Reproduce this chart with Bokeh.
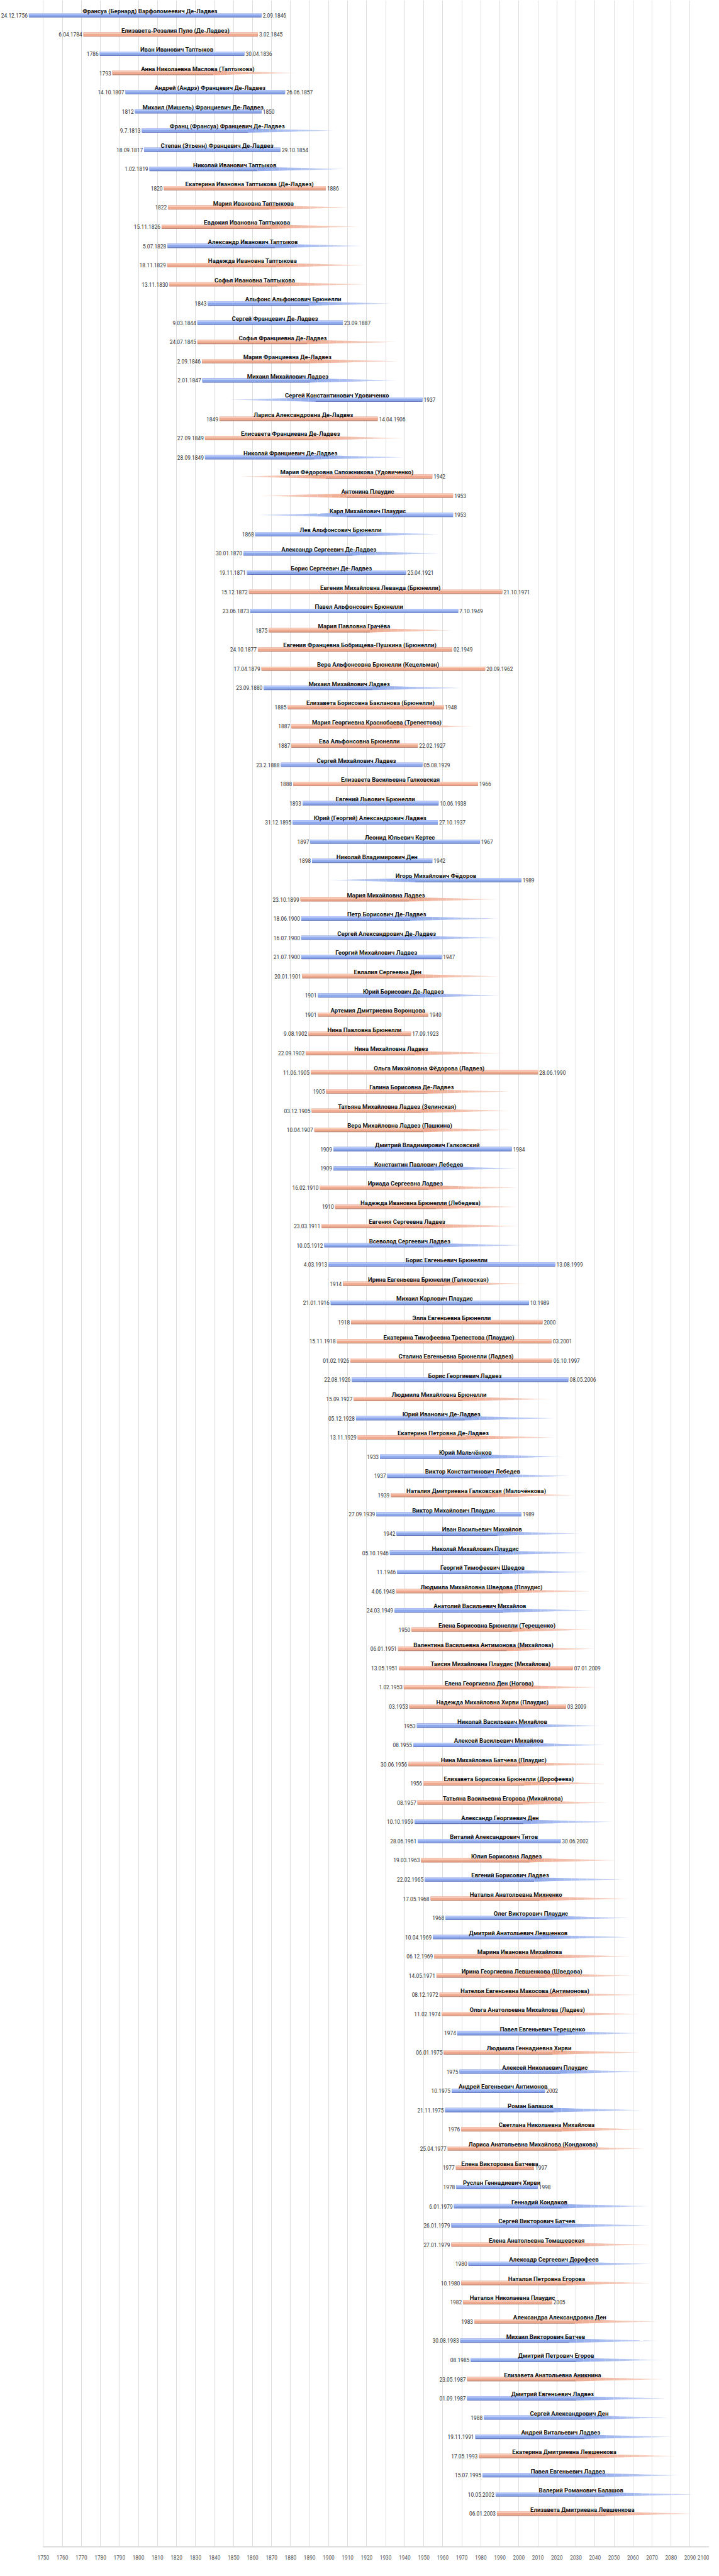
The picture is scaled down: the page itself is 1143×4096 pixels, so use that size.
from bokeh.plotting import figure
from bokeh.models import Range1d, ColumnDataSource, FixedTicker
from bokeh.transform import dodge
from bokeh.core.properties import value
from bokeh.embed import file_html
from bokeh.resources import INLINE

names = [
    "Франсуа (Бернард) Варфоломеевич Де-Ладвез", "Елизавета-Розалия Пуло (Де-Ладвез)", "Иван Иванович Таптыков",
    "Анна Николаевна Маслова (Таптыкова)", "Андрей (Андрэ) Францевич Де-Ладвез", "Михаил (Мишель) Франциевич Де-Ладвез",
    "Франц (Франсуа) Францевич Де-Ладвез", "Степан (Этьенн) Францевич Де-Ладвез", "Николай Иванович Таптыков",
    "Екатерина Ивановна Таптыкова (Де-Ладвез)", "Мария Ивановна Таптыкова",
    "Евдокия Ивановна Таптыкова", "Александр Иванович Таптыков", "Надежда Ивановна Таптыкова", "Софья Ивановна Таптыкова",
    "Альфонс Альфонсович Брюнелли", "Сергей Францевич Де-Ладвез", "Софья Франциевна Де-Ладвез", "Мария Франциевна Де-Ладвез",
    "Михаил Михайлович Ладвез", "Сергей Константинович Удовиченко", "Лариса Александровна Де-Ладвез",
    "Елисавета Франциевна Де-Ладвез", "Николай Франциевич Де-Ладвез", "Мария Фёдоровна Сапожникова (Удовиченко)",
    "Антонина Плаудис", "Карл Михайлович Плаудис", "Лев Альфонсович Брюнелли", "Александр Сергеевич Де-Ладвез",
    "Борис Сергеевич Де-Ладвез", "Евгения Михайловна Леванда (Брюнелли)", "Павел Альфонсович Брюнелли", "Мария Павловна Грачёва",
    "Евгения Францевна Бобрищева-Пушкина (Брюнелли)", "Вера Альфонсовна Брюнелли (Кецельман)", "Михаил Михайлович Ладвез",
    "Елизавета Борисовна Бакланова (Брюнелли)", "Мария Георгиевна Краснобаева (Трепестова)", "Ева Альфонсовна Брюнелли",
    "Сергей Михайлович Ладвез", "Елизавета Васильевна Галковская", "Евгений Львович Брюнелли",
    "Юрий (Георгий) Александрович Ладвез", "Леонид Юльевич Кертес",
    "Николай Владимирович Ден", "Игорь Михайлович Фёдоров", "Мария Михайловна Ладвез", "Петр Борисович Де-Ладвез",
    "Сергей Александрович Де-Ладвез", "Георгий Михайлович Ладвез", "Евлалия Сергеевна Ден", "Юрий Борисович Де-Ладвез",
    "Артемия Дмитриевна Воронцова", "Нина Павловна Брюнелли", "Нина Михайловна Ладвез",
    "Ольга Михайловна Фёдорова (Ладвез)", "Галина Борисовна Де-Ладвез", "Татьяна Михайловна Ладвез (Зелинская)",
    "Вера Михайловна Ладвез (Пашкина)", "Дмитрий Владимирович Галковский", "Константин Павлович Лебедев",
    "Ириада Сергеевна Ладвез", "Надежда Ивановна Брюнелли (Лебедева)", "Евгения Сергеевна Ладвез",
    "Всеволод Сергеевич Ладвез", "Борис Евгеньевич Брюнелли",
    "Ирина Евгеньевна Брюнелли (Галковская)", "Михаил Карлович Плаудис", "Элла Евгеньевна Брюнелли",
    "Екатерина Тимофеевна Трепестова (Плаудис)", "Сталина Евгеньевна Брюнелли (Ладвез)", "Борис Георгиевич Ладвез",
    "Людмила Михайловна Брюнелли", "Юрий Иванович Де-Ладвез", "Екатерина Петровна Де-Ладвез", "Юрий Мальчёнков",
    "Виктор Константинович Лебедев",
    "Наталия Дмитриевна Галковская (Мальчёнкова)", "Виктор Михайлович Плаудис", "Иван Васильевич Михайлов",
    "Николай Михайлович Плаудис", "Георгий Тимофеевич Шведов", "Людмила Михайловна Шведова (Плаудис)",
    "Анатолий Васильевич Михайлов", "Елена Борисовна Брюнелли (Терещенко)", "Валентина Васильевна Антимонова (Михайлова)",
    "Таисия Михайловна Плаудис (Михайлова)", "Елена Георгиевна Ден (Ногова)",
    "Надежда Михайловна Хирви (Плаудис)", "Николай Васильевич Михайлов", "Алексей Васильевич Михайлов",
    "Нина Михайловна Батчева (Плаудис)", "Елизавета Борисовна Брюнелли (Дорофеева)", "Татьяна Васильевна Егорова (Михайлова)",
    "Александр Георгиевич Ден", "Виталий Александрович Титов", "Юлия Борисовна Ладвез", "Евгений Борисович Ладвез",
    "Наталья Анатольевна Михненко",
    "Олег Викторович Плаудис", "Дмитрий Анатольевич Левшенков", "Марина Ивановна Михайлова",
    "Ирина Георгиевна Левшенкова (Шведова)", "Нателья Евгеньевна Макосова (Антимонова)", "Ольга Анатольевна Михайлова (Ладвез)",
    "Павел Евгеньевич Терещенко", "Людмила Геннадиевна Хирви", "Алексей Николаевич Плаудис", "Андрей Евгеньевич Антимонов",
    "Роман Балашов",
    "Светлана Николаевна Михайлова", "Лариса Анатольевна Михайлова (Кондакова)", "Елена Викторовна Батчева",
    "Руслан Геннадиевич Хирви", "Геннадий Кондаков", "Сергей Викторович Батчев", "Елена Анатольевна Томашевская",
    "Алексадр Сергеевич Дорофеев", "Наталья Петровна Егорова", "Наталья Николаевна Плаудис", "Александра Александровна Ден",
    "Михаил Викторович Батчев", "Дмитрий Петрович Егоров", "Елизавета Анатольевна Аникнина", "Дмитрий Евгеньевич Ладвез",
    "Сергей Александрович Ден", "Андрей Витальевич Ладвез", "Екатерина Дмитриевна Левшенкова", "Павел Евгеньевич Ладвез",
    "Валерий Романович Балашов", "Елизавета Дмитриевна Левшенкова",
]

sexes = list("MFMFMMMMMFF" "FMFFMMFFMMF" "FMFFMMMMFMF" "FFMFFFMFMMM" "MMFMMMFMFFF" "FFFFMMFFFMM"
             "FMFFFMFMFMM" "FMMMMFMFFFF" "FMMFFFMMFMF" "MMFFFFMFMMM" "FFFMMMFMFFF" "MMFMMMFMMF")

born = [
    "24.12.1756", "6.04.1784", "1786", "1793", "14.10.1807", "1812", "9.7.1813", "18.09.1817", "1.02.1819", "1820", "1822",
    "15.11.1826", "5.07.1828", "18.11.1829", "13.11.1830", "1843", "9.03.1844", "24.07.1845", "2.09.1846", "2.01.1847", "", "1849",
    "27.09.1849", "28.09.1849", "", "", "", "1868", "30.01.1870", "19.11.1871", "15.12.1872", "23.06.1873", "1875",
    "24.10.1877", "17.04.1879", "23.09.1880", "1885", "1887", "1887", "23.2.1888", "1888", "1893", "31.12.1895", "1897",
    "1898", "", "23.10.1899", "18.06.1900", "16.07.1900", "21.07.1900", "20.01.1901", "1901", "1901", "9.08.1902", "22.09.1902",
    "11.06.1905", "1905", "03.12.1905", "10.04.1907", "1909", "1909", "16.02.1910", "1910", "23.03.1911", "10.05.1912", "4.03.1913",
    "1914", "21.01.1916", "1918", "15.11.1918", "01.02.1926", "22.08.1926", "15.09.1927", "05.12.1928", "13.11.1929", "1933", "1937",
    "1939", "27.09.1939", "1942", "05.10.1946", "11.1946", "4.06.1948", "24.03.1949", "1950", "06.01.1951", "13.05.1951", "1.02.1953",
    "03.1953", "1953", "08.1955", "30.06.1956", "1956", "08.1957", "10.10.1959", "28.06.1961", "19.03.1963", "22.02.1965", "17.05.1968",
    "1968", "10.04.1969", "06.12.1969", "14.05.1971", "08.12.1972", "11.02.1974", "1974", "06.01.1975", "1975", "10.1975", "21.11.1975",
    "1976", "25.04.1977", "1977", "1978", "6.01.1979", "26.01.1979", "27.01.1979", "1980", "10.1980", "1982", "1983",
    "30.08.1983", "08.1985", "23.05.1987", "01.09.1987", "1988", "19.11.1991", "17.05.1993", "15.07.1995", "10.05.2002", "06.01.2003",
]

died = [
    "2.09.1846", "3.02.1845", "30.04.1836", "", "26.06.1857", "1850", "", "29.10.1854", "", "1886", "",
    "", "", "", "", "", "23.09.1887", "", "", "", "1937", "14.04.1906",
    "", "", "1942", "1953", "1953", "", "", "25.04.1921", "21.10.1971", "7.10.1949", "",
    "02.1949", "20.09.1962", "", "1948", "", "22.02.1927", "05.08.1929", "1966", "10.06.1938", "27.10.1937", "1967",
    "1942", "1989", "", "", "", "1947", "", "", "1940", "17.09.1923", "",
    "28.06.1990", "", "", "", "1984", "", "", "", "", "", "13.08.1999",
    "", "10.1989", "2000", "03.2001", "06.10.1997", "08.05.2006", "", "", "", "", "",
    "", "1989", "", "", "", "", "", "", "", "07.01.2009", "",
    "03.2009", "", "", "", "", "", "", "30.06.2002", "", "", "",
    "", "", "", "", "", "", "", "", "", "2002", "",
    "", "", "1997", "1998", "", "", "", "", "", "2005", "",
    "", "", "", "", "", "", "", "", "", "",
]

# bar ends, in axis years
start = [
    1742.4, 1771.1, 1779.7, 1786.3, 1793.2, 1798.2, 1801.8, 1803.0, 1805.8, 1813.4, 1815.6,
    1812.2, 1815.3, 1815.1, 1816.3, 1836.5, 1831.0, 1831.0, 1833.4, 1833.6, 1847.4, 1842.6,
    1835.0, 1835.0, 1852.6, 1863.5, 1863.5, 1861.4, 1855.2, 1857.1, 1858.1, 1858.8, 1868.5,
    1862.8, 1864.7, 1865.9, 1878.5, 1880.4, 1880.4, 1874.9, 1881.4, 1886.3, 1881.1, 1890.4,
    1891.3, 1899.9, 1885.2, 1885.6, 1885.6, 1885.6, 1886.1, 1894.4, 1894.4, 1889.4, 1888.0,
    1890.6, 1898.7, 1891.1, 1892.5, 1902.5, 1902.5, 1895.4, 1903.4, 1896.3, 1897.7, 1899.9,
    1907.5, 1901.1, 1911.8, 1904.4, 1911.5, 1912.2, 1913.2, 1914.4, 1915.3, 1927.0, 1930.8,
    1932.7, 1925.1, 1935.7, 1932.2, 1936.0, 1935.5, 1934.6, 1943.6, 1936.5, 1936.9, 1939.5,
    1942.4, 1946.4, 1944.5, 1941.9, 1949.8, 1946.7, 1945.2, 1946.9, 1948.6, 1950.5, 1953.6,
    1961.4, 1954.8, 1955.5, 1956.7, 1958.3, 1959.5, 1967.6, 1960.5, 1968.8, 1964.7, 1961.2,
    1969.7, 1962.6, 1966.9, 1967.1, 1965.9, 1964.5, 1964.5, 1973.5, 1969.7, 1970.7, 1976.6,
    1969.2, 1974.7, 1972.8, 1972.8, 1981.6, 1977.1, 1979.0, 1980.9, 1987.8, 1988.5,
]
end = [
    1864.7, 1862.8, 1855.7, 1883.0, 1877.1, 1864.7, 1903.2, 1874.7, 1909.1, 1898.5, 1912.2,
    1916.7, 1918.2, 1919.4, 1919.8, 1933.1, 1907.5, 1935.7, 1936.5, 1936.5, 1949.3, 1925.8,
    1939.5, 1939.5, 1954.5, 1965.4, 1965.4, 1958.3, 1959.7, 1940.7, 1991.3, 1968.1, 1965.4,
    1965.0, 1982.3, 1969.7, 1960.5, 1976.8, 1946.9, 1949.3, 1978.5, 1957.8, 1957.4, 1979.5,
    1954.5, 2001.3, 1989.2, 1989.7, 1989.7, 1959.5, 1989.9, 1990.6, 1952.4, 1943.3, 1992.3,
    2010.1, 1995.1, 1995.8, 1996.8, 1996.3, 1998.9, 1999.4, 1999.9, 2000.6, 2002.3, 2019.1,
    2004.2, 2005.3, 2012.5, 2017.2, 2017.5, 2026.0, 2017.5, 2018.4, 2019.1, 2023.2, 2027.2,
    2029.1, 2001.3, 2032.2, 2036.2, 2036.5, 2037.9, 2038.8, 2039.5, 2040.5, 2028.4, 2042.9,
    2024.8, 2043.3, 2045.2, 2046.0, 2046.2, 2047.4, 2049.5, 2022.0, 2052.4, 2055.2, 2058.1,
    2058.1, 2059.0, 2059.5, 2060.7, 2062.6, 2064.0, 2064.3, 2064.7, 2065.2, 2013.7, 2065.2,
    2065.9, 2067.1, 2008.0, 2009.9, 2068.8, 2069.0, 2069.0, 2070.0, 2070.0, 2017.5, 2073.0,
    2073.3, 2075.4, 2076.6, 2077.3, 2078.5, 2081.4, 2083.0, 2085.4, 2092.0, 2092.5,
]

tick_years = list(range(1750, 2101, 10))

# ---------------- styling ----------------
PALETTE = {
    "M": {"dark": "#6277bd", "main": "#8ea8ec", "light": "#b6c8f8"},
    "F": {"dark": "#bd8672", "main": "#efa98f", "light": "#f9cab7"},
}
BAR_H = 0.225          # bar thickness in row units
SOLID_FRAC = 0.55      # fraction of a tapered bar drawn at full height
N_SLICES = 12

W, H = 1127, 4080
p = figure(width=W, height=H, output_backend="svg", toolbar_location=None,
           x_range=Range1d(1727.4, 2100.1), y_range=Range1d(131.72, -0.78),
           min_border_left=0, min_border_right=0, min_border_top=0, min_border_bottom=31)
p.outline_line_color = None
p.background_fill_color = "white"
p.border_fill_color = "white"

rows = list(range(len(names)))

solid = dict(row=[], left=[], right=[], dark=[], main=[], light=[])
taper_xs, taper_ys, taper_col = [], [], []


def blend(c, t):
    r, g, b = int(c[1:3], 16), int(c[3:5], 16), int(c[5:7], 16)
    r = round(r + (255 - r) * t)
    g = round(g + (255 - g) * t)
    b = round(b + (255 - b) * t)
    return "#%02x%02x%02x" % (r, g, b)


name_x = []
for i in rows:
    s, e = start[i], end[i]
    L = e - s
    pal = PALETTE[sexes[i]]
    if died[i] == "":            # open end: fades out to the right
        left, right = s, s + SOLID_FRAC * L
        a, b_ = right, e
        name_x.append(s + 44.9)
    elif born[i] == "":          # unknown birth: fades in from the left
        left, right = e - SOLID_FRAC * L, e
        a, b_ = left, s
        name_x.append(e - 44.9)
    else:
        left, right = s, e
        a = b_ = None
        name_x.append((s + e) / 2 + 2.5)
    solid["row"].append(i)
    solid["left"].append(left)
    solid["right"].append(right)
    solid["dark"].append(pal["dark"])
    solid["main"].append(pal["main"])
    solid["light"].append(pal["light"])
    if a is not None:
        hh = BAR_H / 2
        for k in range(N_SLICES):
            x1 = a + (b_ - a) * k / N_SLICES
            x2 = a + (b_ - a) * (k + 1) / N_SLICES
            h1 = hh * (1 - k / N_SLICES)
            h2 = hh * (1 - (k + 1) / N_SLICES)
            taper_xs.append([x1, x2, x2, x1])
            taper_ys.append([i - h1, i - h2, i + h2, i + h1])
            taper_col.append(blend(pal["main"], 0.6 * (k + 0.5) / N_SLICES))

p.xgrid.ticker = FixedTicker(ticks=tick_years)
p.xgrid.grid_line_color = "#dedede"
p.xgrid.grid_line_width = 1
p.ygrid.visible = False
p.yaxis.visible = False

src = ColumnDataSource(solid)
p.hbar(y="row", left="left", right="right", height=BAR_H, fill_color="dark", line_color=None, source=src)
p.hbar(y=dodge("row", -0.019), left="left", right="right", height=0.1875, fill_color="main", line_color=None, source=src)
p.hbar(y=dodge("row", -0.072), left="left", right="right", height=0.08, fill_color="light", line_color=None, source=src)
p.patches(xs=taper_xs, ys=taper_ys, fill_color=taper_col, line_color=None)

FONT = value("Roboto")
p.text(x=name_x, y=rows, text=names, text_align="center", text_baseline="alphabetic", y_offset=-6.8,
       text_font=FONT, text_font_style="bold", text_font_size="9.6px", text_color="#111111")

bx = [start[i] for i in rows if born[i]]
by = [i for i in rows if born[i]]
bt = [born[i] for i in rows if born[i]]
p.text(x=bx, y=by, text=bt, text_align="right", text_baseline="middle", x_offset=-2,
       text_font=FONT, text_font_size="8.4px", text_color="#333333")

dx = [end[i] for i in rows if died[i]]
dy = [i for i in rows if died[i]]
dt = [died[i] for i in rows if died[i]]
p.text(x=dx, y=dy, text=dt, text_align="left", text_baseline="middle", x_offset=2,
       text_font=FONT, text_font_size="8.4px", text_color="#333333")

ax = p.xaxis[0]
ax.ticker = FixedTicker(ticks=tick_years)
ax.bounds = (1750, 2100)
ax.axis_line_color = "#d9d9d9"
ax.axis_line_width = 2
ax.major_tick_line_color = None
ax.minor_tick_line_color = None
ax.major_label_standoff = 7
ax.major_label_text_font = "Roboto"
ax.major_label_text_font_size = "8.3px"
ax.major_label_text_color = "#595959"

open("out.html", "w").write(file_html(p, INLINE))
